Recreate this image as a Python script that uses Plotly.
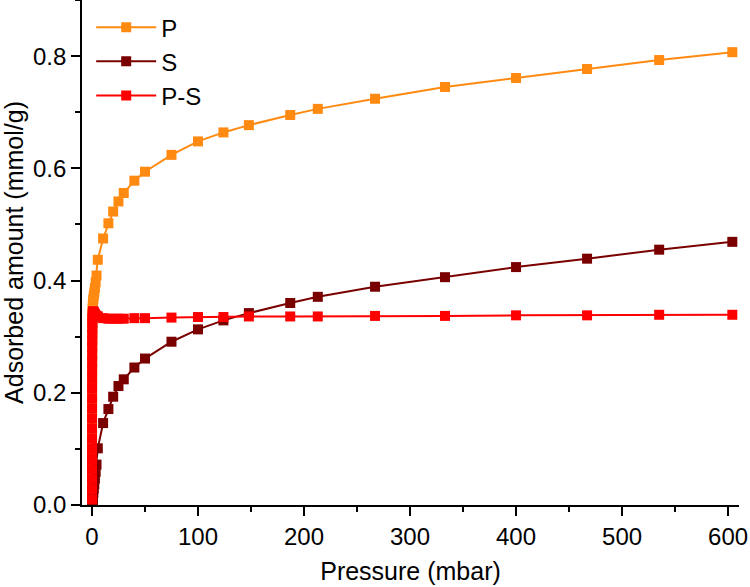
import plotly.graph_objects as go

# Pressure (mbar)
pressure = [0.01, 0.02, 0.03, 0.04, 0.05, 0.06, 0.07, 0.08, 0.09, 0.10, 0.11, 0.12, 0.14, 0.16,
            0.18, 0.20, 0.23, 0.26, 0.30, 0.35, 0.42, 0.50, 0.62, 0.78, 1.0, 1.3, 1.7, 2.2, 2.8,
            3.5, 4.3, 5.5, 10.5, 15.5, 20, 25, 30, 40, 50, 75, 100, 124, 148, 187, 213, 267,
            333, 400, 467, 535, 604]

# Adsorbed amount (mmol/g)
P_vals = [0.010, 0.028, 0.047, 0.065, 0.083, 0.101, 0.119, 0.137, 0.156, 0.174, 0.192, 0.210,
          0.227, 0.243, 0.258, 0.271, 0.285, 0.297, 0.309, 0.321, 0.332, 0.342, 0.350, 0.356,
          0.362, 0.367, 0.373, 0.379, 0.387, 0.397, 0.409, 0.437, 0.475, 0.502, 0.523, 0.541,
          0.556, 0.578, 0.594, 0.624, 0.648, 0.664, 0.677, 0.695, 0.706, 0.724, 0.745, 0.761,
          0.777, 0.793, 0.807]

S_vals = [0.000, 0.000, 0.001, 0.001, 0.001, 0.001, 0.001, 0.001, 0.002, 0.002, 0.002, 0.002,
          0.002, 0.003, 0.003, 0.003, 0.004, 0.004, 0.005, 0.006, 0.007, 0.009, 0.011, 0.013,
          0.017, 0.022, 0.029, 0.037, 0.047, 0.059, 0.072, 0.101, 0.146, 0.171, 0.193, 0.212,
          0.224, 0.245, 0.261, 0.291, 0.313, 0.329, 0.342, 0.360, 0.371, 0.389, 0.406, 0.424,
          0.439, 0.455, 0.469]

PS_vals = [0.010, 0.028, 0.046, 0.064, 0.082, 0.100, 0.118, 0.136, 0.154, 0.172, 0.190, 0.208,
           0.225, 0.240, 0.255, 0.268, 0.281, 0.293, 0.304, 0.315, 0.325, 0.333, 0.339, 0.343,
           0.345, 0.345, 0.344, 0.342, 0.340, 0.338, 0.337, 0.336, 0.333, 0.332, 0.332, 0.332,
           0.332, 0.333, 0.333, 0.334, 0.335, 0.335, 0.336, 0.336, 0.336, 0.337, 0.337, 0.338,
           0.338, 0.339, 0.339]

series_names = ["P", "S", "P-S"]
series_colors = ["#FF8A12", "#7A0000", "#FF0000"]

x_ticks = [0, 100, 200, 300, 400, 500, 600]
y_ticks = [0.0, 0.2, 0.4, 0.6, 0.8]
y_tick_text = ["0.0", "0.2", "0.4", "0.6", "0.8"]

FONT = "Arial, Liberation Sans, sans-serif"

fig = go.Figure()
for name, vals, col in zip(series_names, [P_vals, S_vals, PS_vals], series_colors):
    fig.add_trace(go.Scatter(
        x=pressure, y=vals, name=name, mode="lines+markers",
        line=dict(color=col, width=2),
        marker=dict(symbol="square", size=10, color=col, line=dict(width=0)),
    ))

xr = [-9.4, 610.3]
yr = [0.0, 0.9]

common = dict(showgrid=False, zeroline=False, showline=True, linecolor="black", linewidth=1.6,
              tickcolor="black", tickwidth=1.6, ticklen=9, automargin=False)

fig.update_layout(
    width=750, height=587,
    margin=dict(l=82, r=11, t=0, b=82),
    paper_bgcolor="white", plot_bgcolor="white",
    font=dict(family=FONT, size=24, color="black"),
    showlegend=True,
    legend=dict(x=0.014, y=0.99, xanchor="left", yanchor="top", bgcolor="rgba(0,0,0,0)",
                font=dict(size=24), itemwidth=60, tracegroupgap=0,
                borderwidth=0),
    xaxis=dict(range=xr, tickmode="array", tickvals=x_ticks, ticks="outside",
               minor=dict(dtick=50, tick0=0, ticks="outside", ticklen=5, tickcolor="black", tickwidth=1.6),
               title=dict(text="Pressure (mbar)", standoff=14, font=dict(size=25)),
               tickfont=dict(size=24), **common),
    yaxis=dict(range=yr, tickmode="array", tickvals=y_ticks, ticktext=y_tick_text, ticks="outside",
               minor=dict(dtick=0.1, tick0=0, ticks="outside", ticklen=5, tickcolor="black", tickwidth=1.6),
               title=dict(text="Adsorbed amount (mmol/g)", standoff=3, font=dict(size=25)),
               tickfont=dict(size=24), **common),
    xaxis2=dict(range=xr, overlaying="x", side="top", anchor="y", tickmode="array", tickvals=x_ticks,
                ticks="inside", showticklabels=False,
                minor=dict(dtick=50, tick0=0, ticks="inside", ticklen=5, tickcolor="black", tickwidth=1.6),
                **common),
    yaxis2=dict(range=yr, overlaying="y", side="right", anchor="x", tickmode="array", tickvals=y_ticks,
                ticks="inside", showticklabels=False,
                minor=dict(dtick=0.1, tick0=0, ticks="inside", ticklen=5, tickcolor="black", tickwidth=1.6),
                **common),
)

fig.write_html("out.html", config={"displayModeBar": False},
               post_script="document.body.style.margin='0';")
